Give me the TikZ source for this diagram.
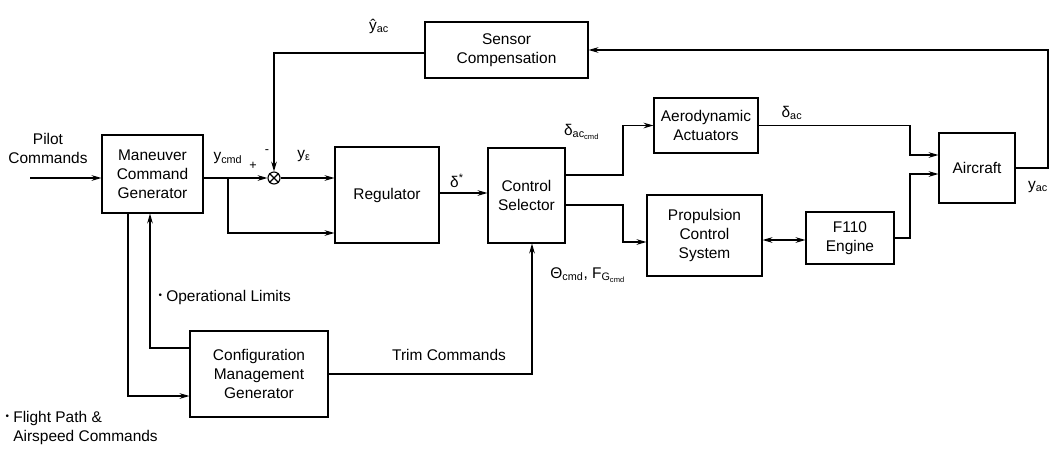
\documentclass[tikz,border=0pt]{standalone}
\usepackage{fontspec}
\setmainfont{Liberation Sans}
\usepackage{tikz}
\usetikzlibrary{arrows.meta}
\newcommand{\blt}{\raisebox{0.35ex}{\scriptsize •}}

\begin{document}
\begin{tikzpicture}[x=0.025cm, y=-0.025cm, line width=0.8pt, >={Stealth[length=7pt,width=4pt]}]
\tikzstyle{block} =
[
	shape			= rectangle,		% shape
	draw			= black,			% colour of the border
	fill			= white,			% filling colour
	align			= center,			% several lines of text
	inner sep		= 0pt,				% size comes from the minimum sizes
	font			= \fontsize{11}{13.5}\selectfont	% used font
]
\tikzstyle{lbl} =
[
	inner sep		= 0pt,				% labels sit on their point
	font			= \fontsize{11}{13.5}\selectfont
]
\useasboundingbox (0,0) rectangle (1050,450);
% blocks
\node (mcg) [block, minimum width=2.525cm, minimum height=1.95cm] at (152.5,174) {Maneuver\\Command\\Generator};
\node (sensor) [block, minimum width=4.075cm, minimum height=1.4cm] at (506.5,50) {Sensor\\Compensation};
\node (reg) [block, minimum width=2.6cm, minimum height=2.4cm] at (387,195) {Regulator};
\node (csel) [block, minimum width=1.925cm, minimum height=2.375cm] at (526.5,195.5) {Control\\Selector};
\node (aero) [block, minimum width=2.6cm, minimum height=1.375cm] at (706,125.5) {Aerodynamic\\Actuators};
\node (prop) [block, minimum width=2.875cm, minimum height=2.025cm] at (704.5,235.5) {Propulsion\\Control\\System};
\node (engine) [block, minimum width=2.2cm, minimum height=1.3cm] at (850,238) {F110\\Engine};
\node (aircraft) [block, minimum width=1.9cm, minimum height=1.75cm] at (977,168) {Aircraft};
\node (cmg) [block, minimum width=3.45cm, minimum height=2.15cm] at (259,374) {Configuration\\Management\\Generator};
\node (summer) [draw, circle, minimum size=0.3cm, inner sep=0pt] at (274,178) {};
\draw (summer.north west) -- (summer.south east);
\draw (summer.north east) -- (summer.south west);
% free ends and branch points
\coordinate (pilot) at (30,178);
\coordinate (br) at (228,178);
% connectors
\draw [->] (pilot) -- (mcg.west |- pilot);
\draw [->] (mcg.east |- br) -- (summer.west);
\draw [->] (br) |- (reg.west |- 0,233);
\draw [->] (sensor.west |- 0,53) -| (summer.north);
\draw [->] (summer.east) -- (summer.east -| reg.west);
\draw [->] (reg.east |- 0,193) -- (csel.west |- 0,193);
\draw [->] (csel.east |- 0,175) -- (623,175) |- (aero.west);
\draw [->] (csel.east |- 0,205) -- (623,205) |- (prop.west |- 0,242);
\draw [<->] (prop.east |- 0,240) -- (engine.west |- 0,240);
\draw [->] (aero.east) -- (910,125.5) |- (aircraft.west |- 0,155);
\draw [->] (engine.east) -- (910,238) |- (aircraft.west |- 0,174);
\draw [->] (aircraft.east) -- (1048,168) |- (sensor.east);
\draw [->] (mcg.south -| 128,0) |- (cmg.west |- 0,396);
\draw [->] (cmg.west |- 0,348) -| (mcg.south -| 150,0);
\draw [->] (cmg.east) -| (csel.south -| 532,0);
% labels
\node (lpilot) [lbl, align=center] at (48,148) {Pilot\\Commands};
\node (lycmd) [lbl] at (228,158) {y\textsubscript{cmd}};
\node (lplus) [lbl] at (253,166) {\small +};
\node (lminus) [lbl] at (267,152) {\small -};
\node (lyhat) [lbl] at (379,26) {ŷ\textsubscript{ac}};
\node (lyeps) [lbl] at (304,156) {y\textsubscript{ε}};
\node (ldstar) [lbl] at (457,181) {δ\textsuperscript{*}};
\node (ldcmd) [lbl] at (582,132) {δ\textsubscript{ac\textsubscript{cmd}}};
\node (ldac) [lbl] at (792,113) {δ\textsubscript{ac}};
\node (ltheta) [lbl] at (588,275) {Θ\textsubscript{cmd}, F\textsubscript{G\textsubscript{cmd}}};
\node (lyac) [lbl] at (1038,187) {y\textsubscript{ac}};
\node (llimits) [lbl, anchor=west] at (158,297) {\blt~Operational Limits};
\node (ltrim) [lbl] at (449,355) {Trim Commands};
\node (lflight) [lbl, anchor=west, align=left] at (5,428) {\blt~Flight Path \&\\\hphantom{\blt~}Airspeed Commands};
\end{tikzpicture}
\end{document}
